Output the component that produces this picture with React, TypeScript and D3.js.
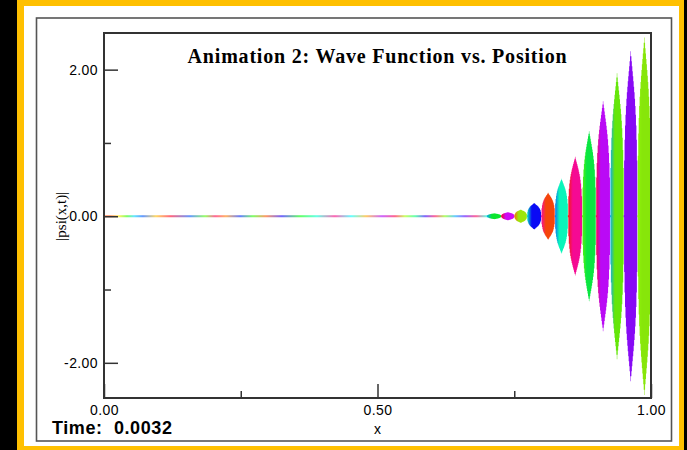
import React, { useEffect, useRef } from 'react';
import * as d3 from 'd3';

const W = 687;
const H = 450;

// lobes of |psi| near the right wall: boundaries (x), peak value, phase hue at left edge and in the body
const lobeEdges = [0.700, 0.726, 0.750, 0.773, 0.799, 0.824, 0.848, 0.874, 0.899, 0.925, 0.950, 0.975, 1.0];
const lobePeaks = [0.04, 0.055, 0.09, 0.18, 0.32, 0.51, 0.81, 1.16, 1.57, 1.95, 2.25, 2.44];
const lobeEdgeHue = [200, 355, 25, 165, 320, 215, 5, 100, 345, 200, 272, 86];
const lobeMainHue = [130, 290, 80, 240, 15, 165, 325, 135, 285, 95, 272, 86];

// the near-zero tail, phase colour read along x
const tailX = [0, 0.011, 0.027, 0.042, 0.055, 0.071, 0.095, 0.122, 0.157, 0.185, 0.203, 0.223, 0.249, 0.272, 0.296,
  0.325, 0.358, 0.389, 0.422, 0.452, 0.479, 0.508, 0.532, 0.550, 0.569, 0.587, 0.605, 0.623, 0.642, 0.660, 0.680, 0.700];
const tailHue = [20, 15, 55, 110, 190, 220, 45, 350, 220, 100, 340, 30, 230, 110, 20,
  245, 120, 170, 330, 180, 40, 280, 345, 80, 150, 250, 340, 90, 200, 260, 340, 170];
const tailLevel = 0.014;

const yMajor = [-2, 0, 2];
const yMinor = [-1, 1];
const xMajor = [0, 0.5, 1];
const xMinor = [0.25, 0.75];

export default function App() {
    const ref = useRef<SVGSVGElement>(null);

    useEffect(() => {
        const svg = d3.select(ref.current);
        svg.selectAll('*').remove();

        const plot = { left: 104, right: 651, top: 33, bottom: 398 };

        const x = d3.scaleLinear().domain([0, 1]).range([plot.left, plot.right]);
        const y = d3.scaleLinear().domain([-2.48, 2.5]).range([plot.bottom, plot.top]);
        const fmt = (d: any) => d3.format('.2f')(d).replace('\u2212', '-');

        // frames
        svg.append('rect').attr('width', W).attr('height', H).attr('fill', '#000');
        svg.append('rect').attr('x', 17).attr('y', 0).attr('width', 667).attr('height', 450).attr('fill', '#ffc000');
        svg.append('rect').attr('x', 24).attr('y', 6).attr('width', 655).attr('height', 440).attr('fill', '#fff');
        svg.append('rect').attr('x', 36.5).attr('y', 18).attr('width', 635).attr('height', 423)
            .attr('fill', 'none').attr('stroke', '#555').attr('stroke-width', 1.6);

        const defs = svg.append('defs');
        const col = (h: number, l = 0.5) => d3.hsl(h, 0.92, l).formatHex();

        // tail gradient
        const last = tailX[tailX.length - 1];
        const tg = defs.append('linearGradient').attr('id', 'tail')
            .attr('gradientUnits', 'userSpaceOnUse')
            .attr('x1', x(tailX[0])).attr('x2', x(last)).attr('y1', 0).attr('y2', 0);
        tailX.forEach((t, i) => {
            tg.append('stop').attr('offset', t / last).attr('stop-color', d3.hsl(tailHue[i], 1, 0.7).formatHex());
        });
        svg.append('rect')
            .attr('x', x(0)).attr('width', x(last) - x(0) + 2)
            .attr('y', y(tailLevel)).attr('height', y(-tailLevel) - y(tailLevel))
            .attr('fill', 'url(#tail)');

        // lobes: pointed crest, broad body
        const area = d3.area<[number, number]>()
            .x(d => x(d[0]))
            .y0(d => y(-d[1]))
            .y1(d => y(d[1]))
            .curve(d3.curveStepAfter);
        const shape = (u: number) => (1 - 0.45 * u) * Math.sqrt(Math.max(0, 1 - Math.pow(u, 6)));

        lobePeaks.forEach((peak, i) => {
            const x0 = lobeEdges[i];
            const x1 = lobeEdges[i + 1];
            const g = defs.append('linearGradient').attr('id', 'lobe' + i)
                .attr('gradientUnits', 'userSpaceOnUse')
                .attr('x1', x(x0)).attr('x2', x(x1)).attr('y1', 0).attr('y2', 0);
            const light = lobeMainHue[i] > 70 && lobeMainHue[i] < 150 ? 0.47 : 0.5;
            g.append('stop').attr('offset', 0).attr('stop-color', col(lobeEdgeHue[i]));
            g.append('stop').attr('offset', 0.35).attr('stop-color', col(lobeMainHue[i], light));
            g.append('stop').attr('offset', 1).attr('stop-color', col(lobeMainHue[i], light));

            const n = 30;
            const pts: [number, number][] = d3.range(n + 1).map(k => {
                const t = k / n;
                return [x0 + t * (x1 - x0), Math.max(tailLevel, peak * shape(Math.abs(2 * t - 1)))];
            });
            svg.append('path').attr('d', area(pts)).attr('fill', `url(#lobe${i})`);
        });

        // axes
        const font = (g: any, size: number) => g.selectAll('text')
            .attr('font-family', 'Liberation Sans, Arial, sans-serif')
            .attr('font-size', size).attr('fill', '#000').attr('letter-spacing', 0.4);

        const yAx = svg.append('g').attr('transform', `translate(${plot.left},0)`)
            .call(d3.axisLeft(y).tickValues(yMajor).tickSize(-14).tickPadding(6).tickFormat(fmt));
        yAx.select('.domain').remove();
        font(yAx, 14);
        yAx.selectAll('line').attr('stroke', '#333').attr('stroke-width', 1.5);

        const yMin = svg.append('g').attr('transform', `translate(${plot.left},0)`)
            .call(d3.axisLeft(y).tickValues(yMinor).tickSize(-7).tickFormat(() => ''));
        yMin.select('.domain').remove();
        yMin.selectAll('line').attr('stroke', '#333').attr('stroke-width', 1.5);

        const xAx = svg.append('g').attr('transform', `translate(0,${plot.bottom})`)
            .call(d3.axisBottom(x).tickValues(xMajor).tickSize(-14).tickPadding(7).tickFormat(fmt));
        xAx.select('.domain').remove();
        font(xAx, 14);
        xAx.selectAll('line').attr('stroke', '#333').attr('stroke-width', 1.5);

        const xMin = svg.append('g').attr('transform', `translate(0,${plot.bottom})`)
            .call(d3.axisBottom(x).tickValues(xMinor).tickSize(-7).tickFormat(() => ''));
        xMin.select('.domain').remove();
        xMin.selectAll('line').attr('stroke', '#333').attr('stroke-width', 1.5);

        svg.append('rect')
            .attr('x', plot.left).attr('y', plot.top)
            .attr('width', plot.right - plot.left).attr('height', plot.bottom - plot.top)
            .attr('fill', 'none').attr('stroke', '#333').attr('stroke-width', 2);

        // labels
        svg.append('text')
            .attr('x', 377.5).attr('y', 63).attr('text-anchor', 'middle')
            .attr('font-family', 'Liberation Serif, Times New Roman, serif')
            .attr('font-weight', 'bold').attr('font-size', 20).attr('letter-spacing', 0.8)
            .text('Animation 2: Wave Function vs. Position');

        svg.append('text')
            .attr('x', x(0.5)).attr('y', 434).attr('text-anchor', 'middle')
            .attr('font-family', 'Liberation Sans, Arial, sans-serif').attr('font-size', 14)
            .text('x');

        svg.append('text')
            .attr('transform', `translate(66,${y(0)}) rotate(-90)`).attr('text-anchor', 'middle')
            .attr('font-family', 'Liberation Serif, Times New Roman, serif').attr('font-size', 15)
            .text('|psi(x,t)|');

        svg.append('text')
            .attr('x', 52).attr('y', 434)
            .attr('font-family', 'Liberation Sans, Arial, sans-serif')
            .attr('font-weight', 'bold').attr('font-size', 18).attr('letter-spacing', 0.6)
            .attr('xml:space', 'preserve').style('white-space', 'pre')
            .text('Time:  0.0032');
    }, []);

    return (
        <svg ref={ref} width={W} height={H} style={{ position: 'absolute', left: 0, top: 0 }} />
    );
}
